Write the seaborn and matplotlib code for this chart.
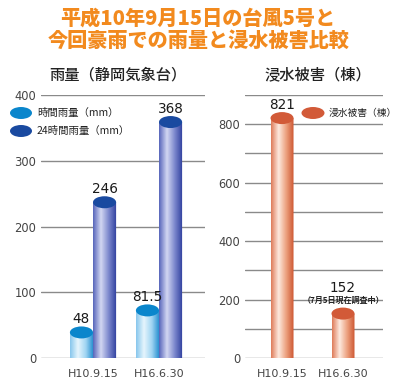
import numpy as np
import pandas as pd
import matplotlib
matplotlib.use('Agg')
import matplotlib.pyplot as plt
import seaborn as sns
from matplotlib.colors import LinearSegmentedColormap
from matplotlib.patches import Ellipse, Polygon

# données
dates = ['H10.9.15', 'H16.6.30']
rain_hourly = [48, 81.5]
rain_24h = [246, 368]
flood_houses = [821, 152]
rain_labels = ['48', '81.5', '246', '368']
flood_labels = ['821', '152']
flood_note = '（7月5日現在調査中）'

sns.set_style('white')
plt.rcParams['font.family'] = ['Noto Sans CJK JP', 'DejaVu Sans']
num_font = ['DejaVu Sans']

rain = pd.DataFrame({
    'date': dates * 2,
    'rain': rain_hourly + rain_24h,
    'kind': ['時間雨量（mm）'] * 2 + ['24時間雨量（mm）'] * 2,
})
flood = pd.DataFrame({'date': dates, 'houses': flood_houses})

# couleurs des cylindres
cm_light = LinearSegmentedColormap.from_list('lb', ['#86c6ec', '#e6f5fd', '#9ed4f2', '#1a88cc'])
cm_dark = LinearSegmentedColormap.from_list('db', ['#5664ba', '#d2d7f2', '#7a86cc', '#2c3c9c'])
cm_orange = LinearSegmentedColormap.from_list('or', ['#de7a58', '#fde9de', '#eca07e', '#cc5530'])
top_light, top_dark, top_orange = '#0a86cc', '#1a4aa0', '#d25a38'
grad = np.linspace(0, 1, 256)[None, :]


def cylinder(ax, patch, cmap, top_color, cap_h, cap_on_value):
    x, w, h = patch.get_x(), patch.get_width(), patch.get_height()
    b = cap_h / 2
    cy = h if cap_on_value else h - b
    t = np.linspace(np.pi, 2 * np.pi, 40)
    verts = [(x, cy), (x, 0)] + list(zip(x + w / 2 + w / 2 * np.cos(t), b * np.sin(t))) \
        + [(x + w, 0), (x + w, cy)]
    clip = Polygon(verts, closed=True, transform=ax.transData)
    im = ax.imshow(grad, cmap=cmap, extent=[x, x + w, -b, cy], aspect='auto',
                   interpolation='bilinear', zorder=2)
    im.set_clip_path(clip)
    im.set_clip_box(None)
    ax.add_patch(Ellipse((x + w / 2, cy), w, cap_h, facecolor=top_color,
                         edgecolor='none', zorder=3, clip_on=False))
    patch.set_alpha(0)
    return x + w / 2, cy + b


def value_label(ax, text, xy, dy):
    ax.annotate(text, xy, xytext=(0, dy), textcoords='offset points',
                ha='center', va='bottom', fontsize=9.8, family=num_font,
                color='#1a1a1a', annotation_clip=False)


fig = plt.figure(figsize=(4, 3.89), dpi=100)

# titre
fig.text(0.495, 1 - 19 / 389, '平成10年9月15日の台風5号と', ha='center', va='center',
         fontsize=14.5, fontweight='heavy', color='#f28a1e')
fig.text(0.497, 1 - 41 / 389, '今回豪雨での雨量と浸水被害比較', ha='center', va='center',
         fontsize=14.5, fontweight='heavy', color='#f28a1e')
fig.text(118 / 400, 1 - 75 / 389, '雨量（静岡気象台）', ha='center', va='center',
         fontsize=11, fontweight='medium', color='#222222')
fig.text(318 / 400, 1 - 75 / 389, '浸水被害（棟）', ha='center', va='center',
         fontsize=11, fontweight='medium', color='#222222')

# graphe gauche : pluie
ax1 = fig.add_axes([41 / 400, 31 / 389, 164 / 400, 263 / 389])
sns.barplot(data=rain, x='date', y='rain', hue='kind', width=0.7, legend=False, ax=ax1)
cap1 = 400 / 263 * 12
i = 0
for cont, cmap, top in zip(ax1.containers, [cm_light, cm_dark], [top_light, top_dark]):
    for patch in cont:
        cx, ytop = cylinder(ax1, patch, cmap, top, cap1, False)
        value_label(ax1, rain_labels[i], (cx, ytop), 0)
        i += 1
ax1.set_xlim(-0.788, 1.697)
ax1.set_ylim(0, 400)
ax1.set_yticks([0, 100, 200, 300, 400])

# graphe droit : maisons inondées
ax2 = fig.add_axes([245 / 400, 31 / 389, 138 / 400, 263 / 389])
sns.barplot(data=flood, x='date', y='houses', width=0.377, ax=ax2)
cap2 = 900 / 263 * 12
for j, patch in enumerate(ax2.patches[:2]):
    cx, ytop = cylinder(ax2, patch, cm_orange, top_orange, cap2, True)
    if j == 0:
        value_label(ax2, flood_labels[j], (cx, ytop), 0)
    else:
        ax2.annotate(flood_note, (cx, ytop), xytext=(0, 2), textcoords='offset points',
                     ha='center', va='bottom', fontsize=5.8, fontweight='bold',
                     color='#222222', annotation_clip=False)
        value_label(ax2, flood_labels[j], (cx, ytop), 9)
ax2.set_xlim(-0.607, 1.656)
ax2.set_ylim(0, 900)
ax2.set_yticks([0, 200, 400, 600, 800])
ax2.set_yticks([100, 300, 500, 700, 900], minor=True)

for ax in (ax1, ax2):
    sns.despine(ax=ax, left=True, bottom=True)
    ax.set_xlabel('')
    ax.set_ylabel('')
    ax.set_axisbelow(True)
    ax.grid(axis='y', which='both', color='#8a8a8a', linewidth=1)
    ax.grid(axis='x', visible=False)
    ax.tick_params(axis='y', which='both', length=0, pad=3.5, labelsize=8.3, labelcolor='#444444')
    ax.tick_params(axis='x', length=0, pad=8, labelsize=8, labelcolor='#444444')
    for lab in ax.get_xticklabels() + ax.get_yticklabels():
        lab.set_family(num_font)
    ax.set_facecolor('none')

# légendes
for yy, col, lab in [(113, top_light, '時間雨量（mm）'), (131, top_dark, '24時間雨量（mm）')]:
    fig.patches.append(Ellipse((21 / 400, 1 - yy / 389), 22 / 400, 12 / 389, facecolor=col,
                               edgecolor='none', transform=fig.transFigure))
    fig.text(37 / 400, 1 - yy / 389, lab, ha='left', va='center', fontsize=7.5, color='#222222')
fig.patches.append(Ellipse((313 / 400, 1 - 113 / 389), 23 / 400, 12 / 389, facecolor=top_orange,
                           edgecolor='none', transform=fig.transFigure))
fig.text(329 / 400, 1 - 113 / 389, '浸水被害（棟）', ha='left', va='center', fontsize=7, color='#222222')

fig.savefig('out.png', dpi=100)
